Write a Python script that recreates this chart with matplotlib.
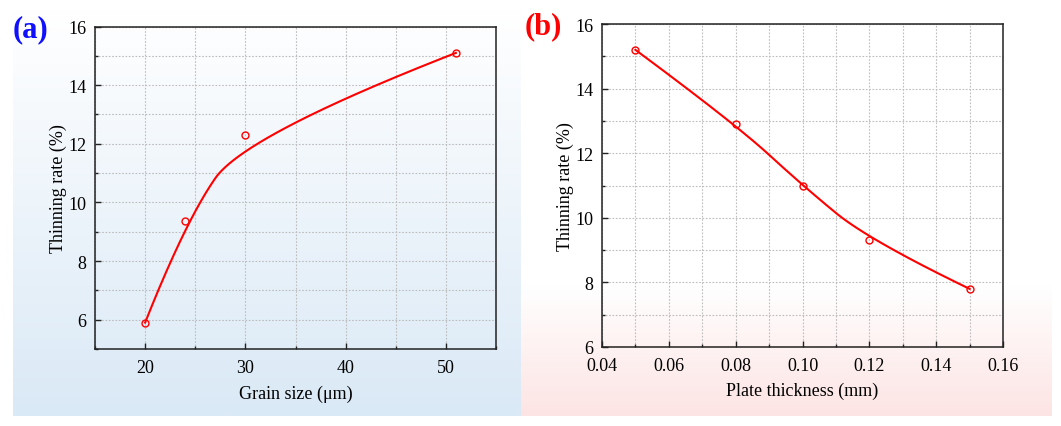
import numpy as np
import matplotlib
matplotlib.use('Agg')
import matplotlib.pyplot as plt
from matplotlib.ticker import MultipleLocator, FormatStrFormatter

plt.rcParams['font.family'] = ['Liberation Serif', 'DejaVu Serif']

# data
grain_size = [20, 24, 30, 51]
thinning_a = [5.9, 9.35, 12.3, 15.1]
thickness = [0.05, 0.08, 0.10, 0.12, 0.15]
thinning_b = [15.2, 12.9, 11.0, 9.3, 7.8]

RED = '#ff0000'
W, H = 1061, 427
FS = 13


def bspline2(xs, ys, n=120):
    # clamped quadratic B-spline with the data points as control points
    p = np.column_stack([xs, ys]).astype(float)
    k = len(p)
    u = np.linspace(0, 1, n)[:, None]
    parts = []
    for i in range(1, k - 1):
        s = p[0] if i == 1 else (p[i - 1] + p[i]) / 2
        e = p[-1] if i == k - 2 else (p[i] + p[i + 1]) / 2
        parts.append((1 - u) ** 2 * s + 2 * u * (1 - u) * p[i] + u ** 2 * e)
    c = np.vstack(parts)
    return c[:, 0], c[:, 1]


def gradient_bg(fig, px_rect, top_rgb, bot_rgb, start=0.0):
    x0, y0, x1, y1 = px_rect
    bg = fig.add_axes([x0 / W, 1 - y1 / H, (x1 - x0) / W, (y1 - y0) / H], zorder=-5)
    t = np.linspace(0, 1, 256)
    t = np.clip((t - start) / (1 - start), 0, 1)[:, None]
    img = (1 - t) * np.array(top_rgb) + t * np.array(bot_rgb)
    bg.imshow(img[:, None, :] / 255.0, aspect='auto', extent=[0, 1, 0, 1])
    bg.set_axis_off()


def style_axes(ax):
    ax.set_facecolor('none')
    for s in ax.spines.values():
        s.set_linewidth(1.1)
        s.set_color('#222222')
    ax.tick_params(which='both', direction='in', top=False, right=False,
                   labelsize=FS, color='#222222')
    ax.tick_params(axis='y', which='both', pad=6)
    ax.tick_params(axis='x', which='both', pad=7.5)
    ax.tick_params(which='major', length=4, width=1)
    ax.tick_params(which='minor', length=2.5, width=1)
    ax.grid(which='both', linestyle=(0, (1.5, 1.5)), color='#bdbdbd', linewidth=0.8)
    ax.set_axisbelow(True)


fig = plt.figure(figsize=(W / 100, H / 100), dpi=100)
fig.patch.set_facecolor('white')

gradient_bg(fig, (13, 10, 521, 417), (255, 255, 255), (218, 233, 246))
gradient_bg(fig, (521, 10, 1052, 417), (255, 255, 255), (253, 228, 228), start=0.68)

# (a) grain size
ax1 = fig.add_axes([95 / W, 1 - 350 / H, 401 / W, 322.5 / H])
style_axes(ax1)
cx, cy = bspline2(grain_size, thinning_a)
ax1.plot(cx, cy, color=RED, linewidth=1.5, zorder=3)
ax1.plot(grain_size, thinning_a, 'o', markersize=5, markerfacecolor='none',
         markeredgecolor=RED, markeredgewidth=1, zorder=4)
ax1.set_xlim(15, 55)
ax1.set_ylim(5, 16)
ax1.xaxis.set_major_locator(MultipleLocator(10))
ax1.xaxis.set_minor_locator(MultipleLocator(5))
ax1.yaxis.set_major_locator(MultipleLocator(2))
ax1.yaxis.set_minor_locator(MultipleLocator(1))
ax1.set_yticks([6, 8, 10, 12, 14, 16])
ax1.set_xlabel('Grain size (μm)', fontsize=FS, labelpad=6)
ax1.set_ylabel('Thinning rate (%)', fontsize=FS, labelpad=1)

# (b) plate thickness
ax2 = fig.add_axes([602 / W, 1 - 348 / H, 401 / W, 323 / H])
style_axes(ax2)
cx, cy = bspline2(thickness, thinning_b)
ax2.plot(cx, cy, color=RED, linewidth=1.5, zorder=3)
ax2.plot(thickness, thinning_b, 'o', markersize=5, markerfacecolor='none',
         markeredgecolor=RED, markeredgewidth=1, zorder=4)
ax2.set_xlim(0.04, 0.16)
ax2.set_ylim(6, 16)
ax2.xaxis.set_major_locator(MultipleLocator(0.02))
ax2.xaxis.set_minor_locator(MultipleLocator(0.01))
ax2.yaxis.set_major_locator(MultipleLocator(2))
ax2.yaxis.set_minor_locator(MultipleLocator(1))
ax2.xaxis.set_major_formatter(FormatStrFormatter('%.2f'))
ax2.set_xlabel('Plate thickness (mm)', fontsize=FS, labelpad=5)
ax2.set_ylabel('Thinning rate (%)', fontsize=FS, labelpad=1)

fig.text(31 / W, 1 - 30 / H, '(a)', color='#1010ff', fontsize=22,
         fontweight='bold', ha='center', va='center')
fig.text(543 / W, 1 - 27 / H, '(b)', color=RED, fontsize=22,
         fontweight='bold', ha='center', va='center')

fig.savefig('out.png', dpi=100)
